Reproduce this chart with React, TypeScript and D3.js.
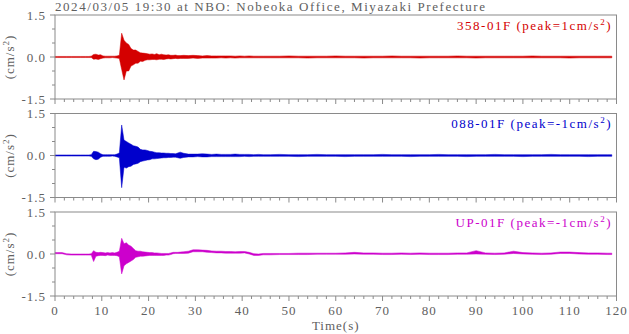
import React from "react";
import * as d3 from "d3";

// ---- time grid (bin starts, seconds) ----
const binStarts: number[] = [
  ...d3.range(0, 7, 1),
  ...d3.range(7, 27, 0.5),
  ...d3.range(27, 45, 1),
  ...d3.range(45, 119, 2),
];
const traceEnd = 119;

// ---- series values (cm/s^2): upper / lower envelope per bin ----
const redHi = [
  0.02, 0.02, 0.02, 0.02, 0.02, 0.02, 0.02,
  0.02, 0.03, 0.09, 0.10, 0.07, 0.08, 0.04, 0.03, 0.03, 0.03, 0.03, 0.03, 0.04, 0.06,
  0.85, 0.60, 0.50, 0.45, 0.30, 0.25, 0.25, 0.20, 0.15, 0.14, 0.13, 0.12,
  0.10, 0.11, 0.09, 0.12, 0.08, 0.10, 0.08, 0.07, 0.08, 0.06, 0.06, 0.07, 0.05, 0.05,
  0.06, 0.05, 0.06, 0.05, 0.04, 0.05, 0.04, 0.04, 0.04, 0.04, 0.04, 0.03, 0.04, 0.03, 0.04, 0.03, 0.03, 0.03,
  0.03, 0.03, 0.04, 0.03, 0.03, 0.03, 0.03, 0.04, 0.03, 0.03,
  0.03, 0.03, 0.03, 0.04, 0.03, 0.03, 0.03, 0.03, 0.03, 0.03,
  0.04, 0.03, 0.03, 0.03, 0.03, 0.03, 0.03, 0.03, 0.04, 0.03,
  0.03, 0.03, 0.03, 0.03, 0.03, 0.03, 0.03,
];
const redLo = [
  -0.02, -0.02, -0.02, -0.02, -0.02, -0.02, -0.02,
  -0.02, -0.02, -0.08, -0.07, -0.09, -0.06, -0.04, -0.03, -0.03, -0.03, -0.02, -0.03, -0.04, -0.05,
  -0.45, -0.82, -0.50, -0.50, -0.32, -0.28, -0.22, -0.22, -0.15, -0.16, -0.12, -0.10,
  -0.10, -0.09, -0.09, -0.10, -0.08, -0.08, -0.09, -0.07, -0.06, -0.07, -0.06, -0.05, -0.06, -0.05,
  -0.05, -0.05, -0.04, -0.05, -0.04, -0.04, -0.04, -0.04, -0.03, -0.04, -0.03, -0.04, -0.03, -0.03, -0.03, -0.03, -0.03, -0.03,
  -0.03, -0.03, -0.03, -0.03, -0.04, -0.03, -0.03, -0.03, -0.03, -0.03,
  -0.04, -0.03, -0.03, -0.03, -0.03, -0.03, -0.04, -0.03, -0.03, -0.03,
  -0.03, -0.03, -0.04, -0.03, -0.03, -0.03, -0.03, -0.03, -0.03, -0.03,
  -0.03, -0.03, -0.04, -0.03, -0.03, -0.03, -0.03,
];
const blueHi = [
  0.02, 0.02, 0.02, 0.02, 0.02, 0.02, 0.02,
  0.02, 0.03, 0.15, 0.14, 0.12, 0.06, 0.03, 0.03, 0.03, 0.03, 0.03, 0.03, 0.05, 0.09,
  1.09, 0.55, 0.50, 0.45, 0.40, 0.35, 0.33, 0.30, 0.22, 0.20, 0.20, 0.18,
  0.15, 0.14, 0.12, 0.10, 0.10, 0.09, 0.09, 0.08, 0.08, 0.07, 0.07, 0.06, 0.09, 0.12,
  0.08, 0.05, 0.05, 0.05, 0.06, 0.05, 0.04, 0.05, 0.04, 0.04, 0.04, 0.05, 0.04, 0.04, 0.04, 0.03, 0.04, 0.03,
  0.03, 0.04, 0.03, 0.03, 0.03, 0.04, 0.03, 0.03, 0.03, 0.03,
  0.03, 0.03, 0.04, 0.03, 0.03, 0.03, 0.03, 0.03, 0.04, 0.03,
  0.03, 0.03, 0.03, 0.03, 0.04, 0.03, 0.03, 0.03, 0.03, 0.03,
  0.04, 0.03, 0.03, 0.03, 0.03, 0.03, 0.03,
];
const blueLo = [
  -0.02, -0.02, -0.02, -0.02, -0.02, -0.02, -0.02,
  -0.02, -0.03, -0.12, -0.15, -0.13, -0.06, -0.03, -0.03, -0.03, -0.03, -0.02, -0.03, -0.05, -0.08,
  -1.15, -0.42, -0.45, -0.40, -0.38, -0.32, -0.30, -0.28, -0.22, -0.20, -0.18, -0.16,
  -0.15, -0.12, -0.12, -0.11, -0.10, -0.09, -0.08, -0.08, -0.07, -0.07, -0.06, -0.06, -0.08, -0.10,
  -0.07, -0.05, -0.05, -0.04, -0.05, -0.05, -0.04, -0.04, -0.04, -0.04, -0.04, -0.04, -0.04, -0.03, -0.04, -0.03, -0.03, -0.03,
  -0.03, -0.03, -0.03, -0.04, -0.03, -0.03, -0.03, -0.03, -0.04, -0.03,
  -0.03, -0.03, -0.03, -0.03, -0.03, -0.04, -0.03, -0.03, -0.03, -0.03,
  -0.03, -0.04, -0.03, -0.03, -0.03, -0.03, -0.03, -0.04, -0.03, -0.03,
  -0.03, -0.03, -0.03, -0.03, -0.04, -0.03, -0.03,
];
const magHi = [
  0.05, 0.05, 0.01, 0.00, 0.00, 0.00, 0.00,
  0.00, 0.01, 0.12, 0.06, 0.05, 0.06, 0.05, 0.04, 0.05, 0.04, 0.05, 0.04, 0.06, 0.10,
  0.56, 0.37, 0.40, 0.32, 0.28, 0.20, 0.12, 0.10, 0.10, 0.08, 0.07, 0.06,
  0.05, 0.05, 0.04, 0.04, 0.03, 0.02, 0.02, 0.02, 0.02, 0.04, 0.06, 0.06, 0.06, 0.07,
  0.08, 0.10, 0.15, 0.15, 0.14, 0.13, 0.11, 0.10, 0.10, 0.09, 0.09, 0.08, 0.09, 0.09, 0.06, 0.01, 0.00, 0.02,
  0.02, 0.02, 0.02, 0.03, 0.03, 0.03, 0.03, 0.03, 0.04, 0.06,
  0.04, 0.04, 0.03, 0.03, 0.04, 0.03, 0.04, 0.03, 0.03, 0.03,
  0.04, 0.04, 0.12, 0.04, 0.03, 0.04, 0.10, 0.05, 0.04, 0.03,
  0.04, 0.07, 0.07, 0.05, 0.04, 0.04, 0.03,
];
const magLo = [
  0.01, 0.01, -0.03, -0.04, -0.04, -0.04, -0.04,
  -0.04, -0.04, -0.27, -0.08, -0.06, -0.05, -0.05, -0.06, -0.04, -0.05, -0.05, -0.05, -0.06, -0.10,
  -0.71, -0.42, -0.35, -0.30, -0.25, -0.20, -0.12, -0.10, -0.08, -0.08, -0.07, -0.06,
  -0.05, -0.05, -0.05, -0.05, -0.05, -0.05, -0.05, -0.04, -0.04, -0.02, 0.01, 0.02, 0.02, 0.02,
  0.02, 0.03, 0.08, 0.08, 0.08, 0.06, 0.05, 0.04, 0.04, 0.03, 0.03, 0.03, 0.03, 0.04, 0.00, -0.05, -0.05, -0.03,
  -0.03, -0.02, -0.02, -0.02, -0.02, -0.01, -0.01, -0.01, -0.01, 0.00,
  -0.01, -0.01, -0.02, -0.02, -0.01, -0.02, -0.01, -0.02, -0.02, -0.02,
  -0.01, -0.01, 0.00, -0.01, -0.02, -0.01, 0.02, 0.00, -0.01, -0.02,
  -0.01, 0.02, 0.02, 0.00, -0.01, -0.01, -0.02,
];

const seriesNames = ["358-01F", "088-01F", "UP-01F"];
const seriesPeaks = ["1", "-1", "-1"];
const seriesColors = ["#d40000", "#0000cc", "#cc00cc"];
const seriesHi = [redHi, blueHi, magHi];
const seriesLo = [redLo, blueLo, magLo];

const yTickValues = [1.5, 0.0, -1.5];
const xTickValues = [0, 10, 20, 30, 40, 50, 60, 70, 80, 90, 100, 110, 120];
const titleText = "2024/03/05 19:30 at NBO: Nobeoka Office, Miyazaki Prefecture";

const W = 629;
const H = 334;
const LEFT = 55;
const RIGHT = 616.5;
const PANEL_TOPS = [15, 113.5, 212];
const PANEL_H = 84;
const FONT = "'Liberation Serif', 'Times New Roman', serif";
const TEXT_GRAY = "#606060";
const FRAME_GRAY = "#8a8a8a";

type Bin = { t0: number; t1: number; hi: number; lo: number };

export default function App() {
  const x = d3.scaleLinear().domain([0, 120]).range([LEFT, RIGHT]);
  const minorX = d3.range(0, 121, 2);
  const minorY = d3.range(-1.5, 1.51, 0.5);

  return (
    <svg
      width={W}
      height={H}
      style={{ position: "absolute", left: 0, top: 0, background: "#fff" }}
      fontFamily={FONT}
    >
      <text x={LEFT} y={10.5} fontSize={13} fill={TEXT_GRAY} textLength={430} lengthAdjust="spacing">
        {titleText}
      </text>
      {PANEL_TOPS.map((top, p) => {
        const y = d3.scaleLinear().domain([-1.5, 1.5]).range([top + PANEL_H, top]);
        const bins: Bin[] = binStarts.map((t0, i) => ({
          t0,
          t1: i + 1 < binStarts.length ? binStarts[i + 1] : traceEnd,
          hi: seriesHi[p][i],
          lo: seriesLo[p][i],
        }));
        // envelope through bin centres, pinned at both trace ends
        const pts: Bin[] = [
          { ...bins[0], t1: bins[0].t0 },
          ...bins,
          { ...bins[bins.length - 1], t0: traceEnd, t1: traceEnd },
        ];
        const area = d3
          .area<Bin>()
          .x((d) => x((d.t0 + d.t1) / 2))
          .y0((d) => y(d.lo))
          .y1((d) => y(d.hi));
        const bottom = top + PANEL_H;
        const midY = y(0);
        return (
          <g key={p}>
            <path d={area(pts) || ""} fill={seriesColors[p]} stroke={seriesColors[p]} strokeWidth={0.5} />
            <rect x={LEFT} y={top} width={RIGHT - LEFT} height={PANEL_H} fill="none" stroke={FRAME_GRAY} strokeWidth={1} />
            {minorX.map((t) => (
              <line
                key={"xt" + t}
                x1={x(t)}
                x2={x(t)}
                y1={bottom}
                y2={bottom + (t % 10 === 0 ? 5 : 3)}
                stroke={FRAME_GRAY}
                strokeWidth={1}
              />
            ))}
            {minorY.map((v) => (
              <line
                key={"yt" + v}
                x1={LEFT - (Math.abs(v) === 1.5 || Math.abs(v) < 1e-9 ? 5 : 3)}
                x2={LEFT}
                y1={y(v)}
                y2={y(v)}
                stroke={FRAME_GRAY}
                strokeWidth={1}
              />
            ))}
            {yTickValues.map((v) => (
              <text
                key={"yl" + v}
                x={46}
                y={y(v) + 4.5}
                fontSize={13}
                fill={TEXT_GRAY}
                textAnchor="end"
                letterSpacing={1}
              >
                {v.toFixed(1)}
              </text>
            ))}
            <text
              transform={`translate(13.5,${midY}) rotate(-90)`}
              fontSize={13}
              fill={TEXT_GRAY}
              textAnchor="middle"
              letterSpacing={1}
            >
              (cm/s<tspan dy={-5} fontSize={9}>2</tspan>
              <tspan dy={5} fontSize={13}>)</tspan>
            </text>
            <text
              x={612}
              y={top + 14.5}
              fontSize={13}
              fill={seriesColors[p]}
              textAnchor="end"
              letterSpacing={1.5}
            >
              {seriesNames[p]} (peak={seriesPeaks[p]}cm/s
              <tspan dy={-5} fontSize={9}>2</tspan>
              <tspan dy={5} fontSize={13}>)</tspan>
            </text>
          </g>
        );
      })}
      {xTickValues.map((t) => (
        <text
          key={"xl" + t}
          x={x(t)}
          y={315}
          fontSize={13}
          fill={TEXT_GRAY}
          textAnchor="middle"
          letterSpacing={1}
        >
          {t}
        </text>
      ))}
      <text x={(LEFT + RIGHT) / 2} y={329.5} fontSize={13} fill={TEXT_GRAY} textAnchor="middle" letterSpacing={1}>
        Time(s)
      </text>
    </svg>
  );
}
